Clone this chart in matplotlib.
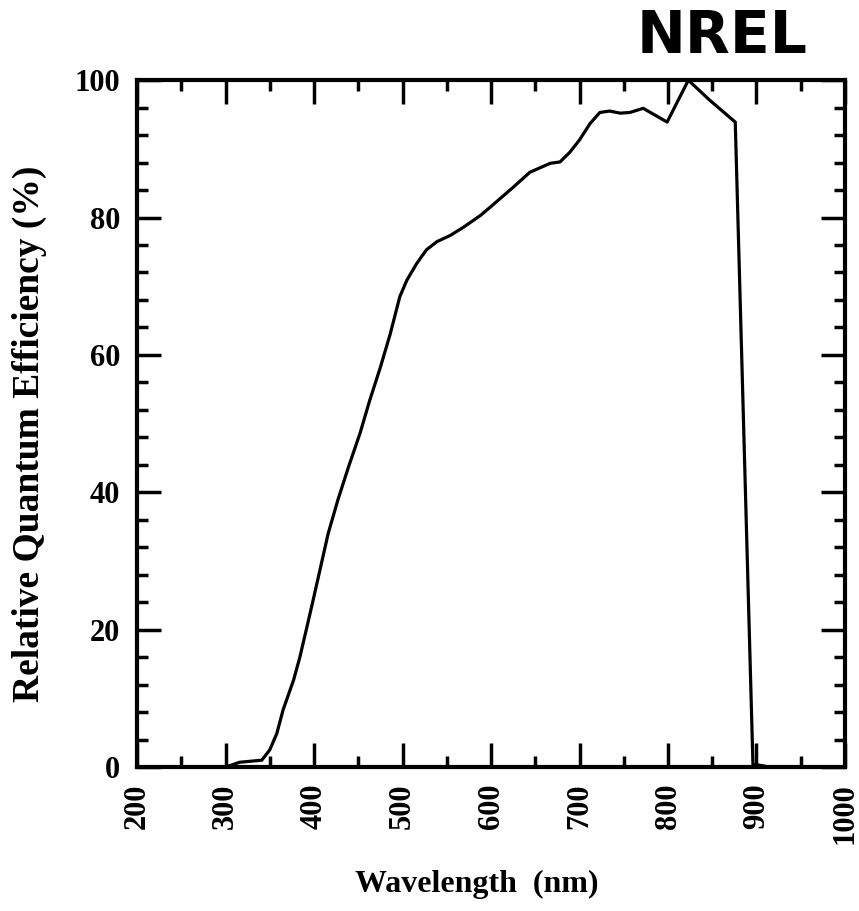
import matplotlib.pyplot as plt
from matplotlib.ticker import MultipleLocator

# Relative QE curve
wavelength = [200, 300, 316, 341, 350, 358, 365, 377, 384, 392, 399, 409, 416, 427,
              439, 452, 463, 475, 486, 490, 497, 505, 516, 527, 539, 554, 569, 588,
              599, 625, 644, 667, 678, 689, 700, 712, 723, 734, 746, 757, 772, 799,
              823, 847, 876, 896, 902, 915, 1000]
qe = [0, 0, 0.7, 1.0, 2.5, 4.9, 8.3, 12.7, 16.0, 20.4, 24.3, 30.0, 34.0, 38.9,
      43.7, 48.6, 53.4, 58.2, 63.0, 65.0, 68.5, 70.9, 73.3, 75.3, 76.5, 77.4, 78.6, 80.3,
      81.5, 84.4, 86.6, 87.9, 88.1, 89.5, 91.3, 93.7, 95.3, 95.5, 95.2, 95.3, 95.9, 93.9,
      100.0, 97.1, 93.9, 0.3, 0.3, 0, 0]

x_ticks = [200, 300, 400, 500, 600, 700, 800, 900, 1000]
y_ticks = [0, 20, 40, 60, 80, 100]

plt.rcParams['font.family'] = ['Liberation Serif', 'DejaVu Serif']

fig = plt.figure(figsize=(8.59, 9.11), dpi=100)
ax = fig.add_axes([0.1595, 0.158, 0.8242, 0.754])

ax.plot(wavelength, qe, color='black', linewidth=2.3, solid_joinstyle='round')

ax.set_xlim(200, 1000)
ax.set_ylim(0, 100)
ax.set_xticks(x_ticks)
ax.set_yticks(y_ticks)
ax.xaxis.set_minor_locator(MultipleLocator(50))
ax.yaxis.set_minor_locator(MultipleLocator(4))

ax.tick_params(which='both', direction='in', top=True, right=True, color='black', width=2.5)
ax.tick_params(which='major', length=17)
ax.tick_params(which='minor', length=8)
ax.tick_params(axis='x', which='major', pad=12, labelsize=22, labelrotation=90)
ax.tick_params(axis='y', which='major', pad=12, labelsize=22)
for lab in ax.get_xticklabels() + ax.get_yticklabels():
    lab.set_fontweight('bold')

for s in ax.spines.values():
    s.set_linewidth(3)

ax.set_xlabel('Wavelength  (nm)', fontsize=23, fontweight='bold')
ax.set_ylabel('Relative Quantum Efficiency (%)', fontsize=27, fontweight='semibold')
ax.xaxis.set_label_coords(0.48, -0.15)
ax.yaxis.set_label_coords(-0.127, 0.485)

fig.text(0.841, 0.96, 'NREL', fontsize=42, fontweight='black', family='DejaVu Sans',
         ha='center', va='center')

fig.savefig('out.png', dpi=100)
